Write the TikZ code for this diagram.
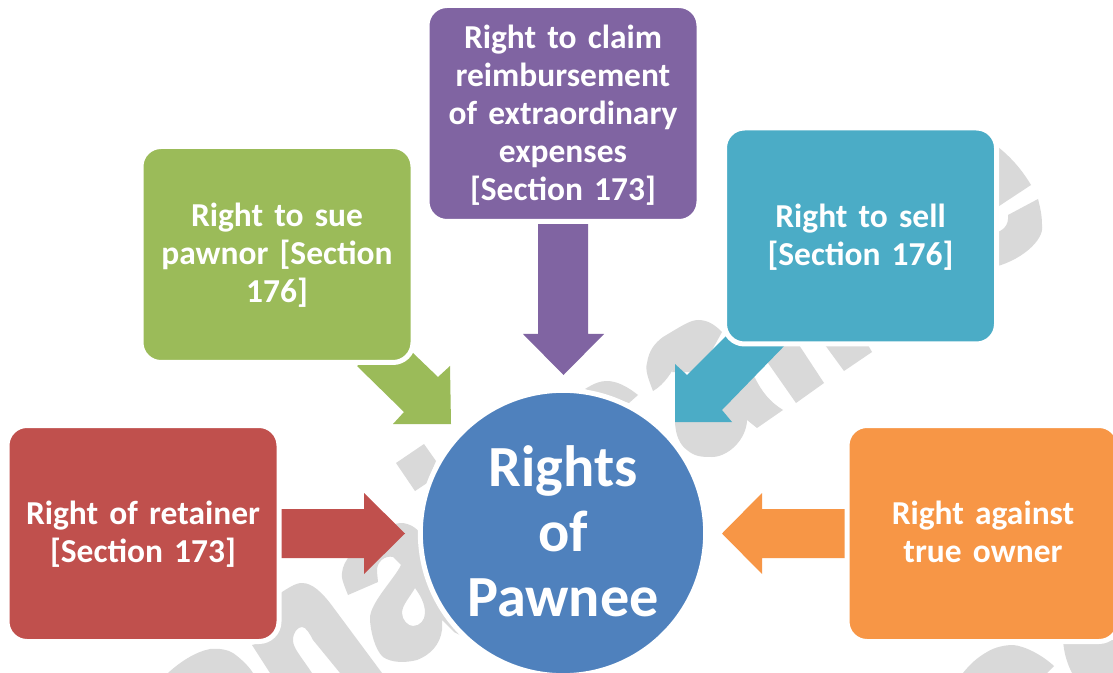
\documentclass[tikz,border=0pt]{standalone}
\usepackage{fontspec}
\setmainfont{Carlito}[BoldFont={Carlito Bold}]
\definecolor{cred}{HTML}{C0504D}
\definecolor{cgreen}{HTML}{9BBB59}
\definecolor{cpurple}{HTML}{8064A2}
\definecolor{cteal}{HTML}{4BACC6}
\definecolor{corange}{HTML}{F79646}
\definecolor{cblue}{HTML}{4F81BD}
\definecolor{wm}{HTML}{D9D9D9}
\tikzset{
  card/.style={rounded corners=15pt,draw=white,line width=3.75pt,inner sep=0pt,
    minimum width=204pt,minimum height=162pt,text width=194pt,align=center,text=white,
    font=\fontsize{25.1}{28.5}\selectfont\bfseries},
  hub/.style={circle,fill=cblue,draw=white,line width=3.75pt,inner sep=0pt,minimum size=214pt,
    text width=146pt,align=center,text=white,font=\fontsize{43.7}{48.5}\selectfont\bfseries},
  wmk/.style={fill=wm,draw=none,even odd rule},
}
\begin{document}
\begin{tikzpicture}[x=0.75pt,y=-0.75pt]
\useasboundingbox (0,0) rectangle (1113,673);
\fill[white] (0,0) rectangle (1113,673);
\begin{scope}
\clip (0,0) rectangle (1113,673);
% watermark
\fill[wmk] (990,141) .. controls (1010,155) and (1022,170) .. (1031,185) -- (990,212) -- cycle;
\fill[wmk] (1038,199) -- (1008,215) .. controls (1009,226) and (1003,232) .. (990,234) -- (990,268) .. controls (1020,262) and (1045,240) .. (1042,225) .. controls (1042,215) and (1040,207) .. (1038,199) -- cycle;
\fill[wmk] (653,391) .. controls (648,378) and (645,370) .. (647,363) .. controls (649,350) and (655,343) .. (663,337) .. controls (680,327) and (690,320) .. (698,320) .. controls (708,320) and (715,325) .. (722,332) -- (700,372) -- (672,372) -- (678,360) .. controls (672,372) and (665,384) .. (653,391) -- cycle;
\fill[wmk] (680,410) -- (675,420) .. controls (675,435) and (680,445) .. (687,450) .. controls (695,457) and (703,457) .. (712,457) .. controls (722,457) and (732,450) .. (737,444) .. controls (745,435) and (747,425) .. (747,420) -- (757,428) -- (783,410) .. controls (770,402) and (762,392) .. (755,378) -- (745,368) -- (690,400) -- cycle;
\fill[wmk] (775,345) -- (768,363) -- (796,403) -- (824,383) -- (799,345) -- cycle;
\fill[wmk] (825,345) -- (844,371) -- (872,352) -- (868,345) -- cycle;
\fill[wmk] (585,389) .. controls (595,383) and (600,381) .. (607,381) .. controls (617,381) and (628,387) .. (638,395) -- (629,403) -- (600,395) -- cycle;
\fill[wmk] (396,463) -- (424,444) -- (436,461) -- (427,483) -- (415,491) -- cycle;
\fill[wmk] (348,595) .. controls (344,585) and (341,578) .. (342,573) .. controls (343,560) and (355,548) .. (372,536) .. controls (385,528) and (392,523) .. (403,523) .. controls (415,525) and (420,532) .. (425,540) -- (470,640) -- (454,632) -- (442,620) -- (442,630) .. controls (440,645) and (430,655) .. (417,660) .. controls (405,663) and (392,663) .. (383,657) .. controls (375,650) and (370,630) .. (370,618) .. controls (370,603) and (395,578) .. (401,565) -- (393,557) .. controls (385,555) and (376,562) .. (377,572) -- (378,582) -- cycle
 (415,588) .. controls (410,597) and (402,605) .. (402,613) .. controls (402,620) and (408,626) .. (413,626) .. controls (420,626) and (425,620) .. (425,613) .. controls (425,603) and (420,595) .. (415,588) -- cycle;
\fill[wmk] (270,640) -- (252,645) -- (270,673) -- (312,673) .. controls (300,655) and (293,648) .. (293,640) .. controls (293,632) and (298,627) .. (302,627) .. controls (306,627) and (310,634) .. (313,640) -- (340,673) -- (382,673) -- (333,607) .. controls (322,592) and (312,583) .. (302,583) .. controls (295,583) and (288,588) .. (270,600) -- cycle;
\fill[wmk] (168,673) .. controls (180,662) and (195,652) .. (210,649) .. controls (220,648) and (228,650) .. (233,653) .. controls (240,658) and (248,665) .. (253,673) -- cycle;
\fill[wmk] (963,673) .. controls (970,664) and (978,657) .. (987,652) .. controls (995,647) and (1005,645) .. (1013,645) .. controls (1025,646) and (1042,655) .. (1054,666) -- (1047,673) -- cycle;
\fill[wmk] (1063,640) .. controls (1064,655) and (1068,665) .. (1072,673) -- (1113,673) -- (1113,640) -- cycle;
\end{scope}
% hub and cards
\node[hub] (hub) at (563,533) {Rights\\of\\Pawnee\par\vspace*{2.5pt}};
\fill[cred] (281,509) -- (364,509) -- (364,493) -- (405,533.5) -- (364,574) -- (364,558) -- (281,558) -- cycle;
\fill[corange] (845,509) -- (762,509) -- (762,493) -- (722,533.5) -- (762,574) -- (762,558) -- (845,558) -- cycle;
\fill[cpurple] (538,224) -- (588,224) -- (588,334) -- (604,334) -- (563.5,375) -- (523,334) -- (538,334) -- cycle;
\fill[cgreen] (357,366) -- (400,340) -- (413,353) -- (438,377) -- (450,366) -- (451,424) -- (393,424) -- (404,412) -- cycle;
\fill[cteal] (675,364) -- (687,375) -- (740,322) -- (790,340) -- (722,410) -- (732,422) -- (675,422) -- cycle;
\node[card,fill=cred] (retainer) at (143,533.5) {Right of retainer\\{}[Section 173]\par\vspace*{-1.5pt}};
\node[card,fill=cgreen] (sue) at (277,254.5) {Right to sue\\pawnor [Section\\176]\par\vspace*{-1.5pt}};
\node[card,fill=cpurple] (claim) at (563,113.5) {Right to claim\\reimbursement\\of extraordinary\\expenses\\{}[Section 173]\par\vspace*{-2.5pt}};
\node[card,fill=cteal] (sell) at (860.5,236) {Right to sell\\{}[Section 176]\par\vspace*{-1.5pt}};
\node[card,fill=corange] (owner) at (983,533.5) {Right against\\true owner\par\vspace*{3pt}};
\end{tikzpicture}
\end{document}
